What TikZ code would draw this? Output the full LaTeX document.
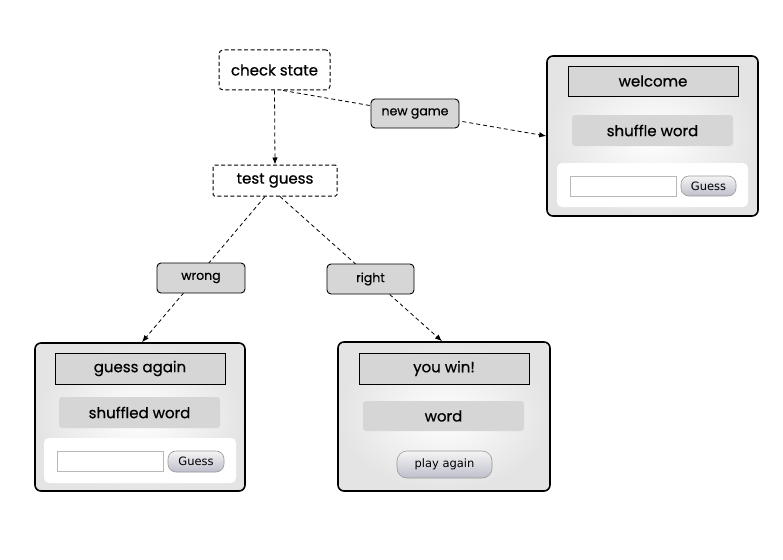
\documentclass[tikz,border=0pt]{standalone}
\usepackage{fontspec}
\setmainfont{Poppins}[FakeBold=0.6]
\newfontfamily\btnfont{DejaVu Sans}
\usetikzlibrary{arrows.meta,calc}
\definecolor{lblgray}{HTML}{D6D6D6}
\definecolor{winedge}{HTML}{E4E4E4}
\definecolor{fieldgray}{HTML}{B8B8B8}
\tikzset{
  statebox/.style={draw, line width=1pt, dash pattern=on 4pt off 2.5pt, rounded corners=4pt, fill=white, inner sep=0pt, font=\fontsize{15}{17}\selectfont},
  edgelbl/.style={draw, line width=0.9pt, rounded corners=4pt, fill=lblgray, inner sep=0pt, font=\fontsize{12.5}{14}\selectfont},
  win/.style={draw, line width=1.6pt, rounded corners=6pt, inner color=white, outer color=winedge, inner sep=0pt},
  titlebar/.style={draw, line width=0.9pt, fill=lblgray, inner sep=0pt, font=\fontsize{15}{17}\selectfont},
  infobar/.style={fill=lblgray, rounded corners=3pt, inner sep=0pt, font=\fontsize{15}{17}\selectfont},
  panel/.style={fill=white, rounded corners=5pt, inner sep=0pt},
  field/.style={draw=fieldgray, line width=0.8pt, fill=white, inner sep=0pt},
  button/.style={draw=gray!80, line width=0.6pt, rounded corners=8pt, top color=gray!8, bottom color=blue!12!gray!45, inner sep=0pt, font=\btnfont\fontsize{11.5}{13}\selectfont},
  flow/.style={dash pattern=on 4pt off 3pt, line width=0.8pt},
  flowarrow/.style={flow, -{Latex[length=7pt,width=5.5pt]}}
}
\begin{document}
\begin{tikzpicture}[x=1pt,y=-1pt]
\useasboundingbox (0,0) rectangle (783,559);
% state boxes
\node[statebox, minimum width=111pt, minimum height=40pt] (check) at (274.5,70) {check state};
\node[statebox, rounded corners=1.5pt, minimum width=124pt, minimum height=31pt] (test) at (275,180.5) {test guess};
% welcome window
\node[win, minimum width=211pt, minimum height=160pt] (wwin) at (652.5,136) {};
\node[titlebar, minimum width=170pt, minimum height=30pt] (wtitle) at (653,81) {welcome};
\node[infobar, minimum width=161pt, minimum height=31pt] (winfo) at (652.5,130.5) {shuffle word};
\node[panel, minimum width=191pt, minimum height=44pt] (wpanel) at (652.5,185) {};
\node[field, minimum width=106pt, minimum height=20pt] (wfield) at (623,186) {};
\node[button, minimum width=55pt, minimum height=20pt] (wbtn) at (708.5,186) {Guess};
% guess again window
\node[win, minimum width=210pt, minimum height=148pt] (gwin) at (140,417) {};
\node[titlebar, minimum width=170pt, minimum height=31pt] (gtitle) at (140,368.5) {guess again};
\node[infobar, minimum width=161pt, minimum height=31pt] (ginfo) at (139.5,412.5) {shuffled word};
\node[panel, minimum width=192pt, minimum height=45pt] (gpanel) at (140,460.5) {};
\node[field, minimum width=106pt, minimum height=20pt] (gfield) at (110,461) {};
\node[button, minimum width=56pt, minimum height=21pt] (gbtn) at (196,461.5) {Guess};
% you win window
\node[win, minimum width=212pt, minimum height=149pt] (ywin) at (444,416.5) {};
\node[titlebar, minimum width=170pt, minimum height=31pt] (ytitle) at (444,368.5) {you win!};
\node[infobar, minimum width=161pt, minimum height=30pt] (yinfo) at (443.5,416) {word};
\node[button, rounded corners=10pt, minimum width=95pt, minimum height=27pt] (ybtn) at (444.5,464.5) {play again};
% connectors
\draw[flowarrow] (check.south) -- (test.north);
\draw[flowarrow] ($(check.south)+(8.5,0)$) -- (wwin.west);
\draw[flowarrow] ($(test.south)+(-10,0)$) -- ($(gwin.north)+(2,0)$);
\draw[flowarrow] ($(test.south)+(5,0)$) -- ($(ywin.north)+(-2,0)$);
% edge labels
\node[edgelbl, minimum width=88pt, minimum height=29pt] (lnew) at (415,113.5) {new game};
\node[edgelbl, minimum width=88pt, minimum height=30pt] (lwrong) at (201,278) {wrong};
\node[edgelbl, minimum width=87pt, minimum height=30pt] (lright) at (370.5,279) {right};
\end{tikzpicture}
\end{document}
